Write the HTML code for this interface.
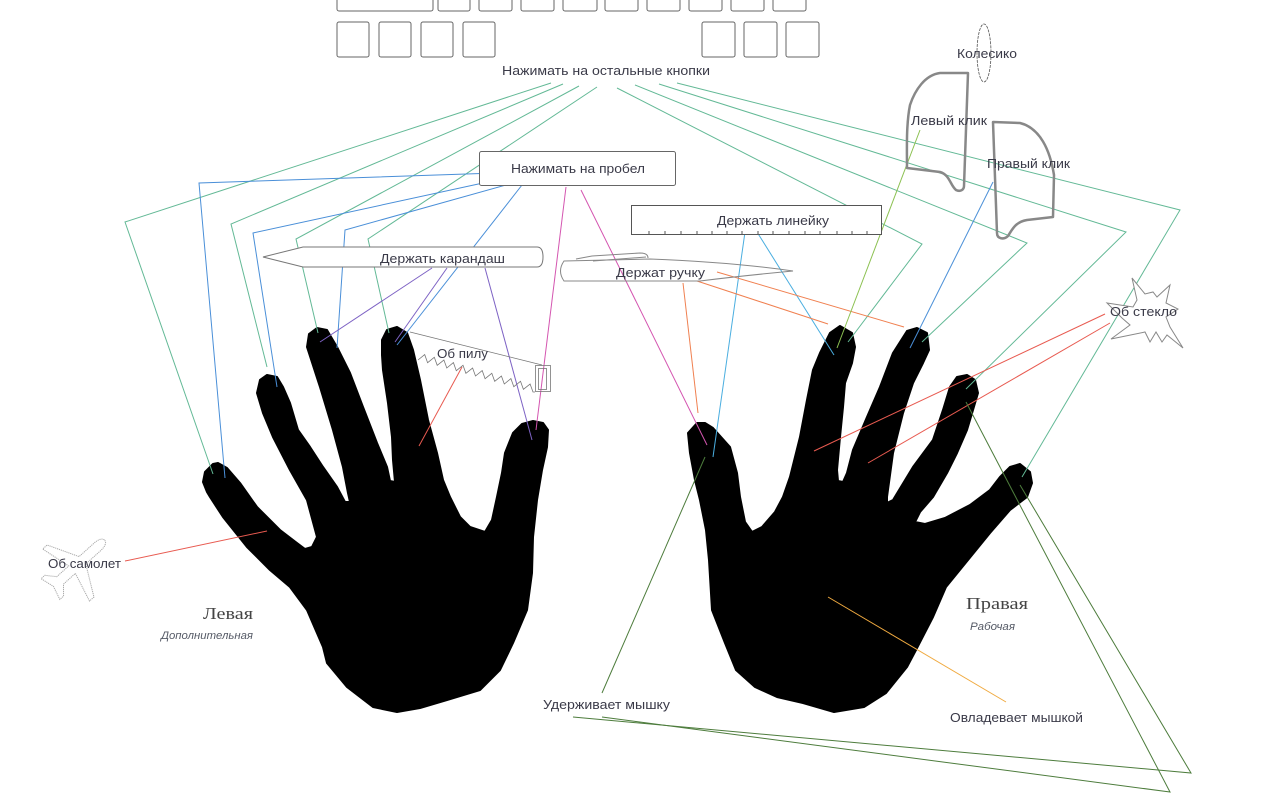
<!DOCTYPE html>
<html>
<head>
<meta charset="utf-8">
<style>
  html,body{margin:0;padding:0;background:#fff;}
  body{width:1280px;height:800px;overflow:hidden;}
  svg{display:block;}
  .t{font-family:"Liberation Sans","DejaVu Sans",sans-serif;font-size:13px;fill:#3a3a48;}
  .s{font-family:"Liberation Serif","DejaVu Serif",serif;font-size:17px;fill:#444;}
  .i{font-family:"Liberation Sans","DejaVu Sans",sans-serif;font-size:11px;font-style:italic;fill:#555a66;}
</style>
</head>
<body>
<svg width="1280" height="800" viewBox="0 0 1280 800" xmlns="http://www.w3.org/2000/svg">
  <rect width="1280" height="800" fill="#fff"/>

  <!-- Hands -->
  <polygon fill="#000" stroke="#000" stroke-width="2" stroke-linejoin="round" points="
  213,464 205,472 203,482 207,492 210,497 223,517 247,547 270,570 290,587 307,610 323,647 327,663 347,687 373,707 397,712 420,708 447,700 480,690 500,670 513,643 527,610 532,573 533,537 537,500 542,470 547,447 548,430 543,423 533,421 522,424 513,433 505,453 502,473 497,497 492,520 485,532 470,527 460,517 450,497 443,480 437,453 428,420 420,380 413,350 407,333 397,327 387,330 382,340 382,355 383,370 388,403 392,437 393,460 395,482 390,481 387,467 377,443 363,407 350,373 337,347 327,330 317,328 309,334 307,347 320,387 333,430 343,467 348,493 350,502 345,502 337,487 323,467 310,447 298,430 290,403 283,387 277,377 267,375 260,380 257,393 263,413 273,437 290,470 307,500 317,537 312,547 305,549 297,543 280,530 257,507 240,483 227,468 218,463"/>
  <polygon fill="#000" stroke="#000" stroke-width="2" stroke-linejoin="round" points="
  697,423 688,433 690,453 695,480 700,500 706,530 709,560 712,610 725,643 736,670 755,687 777,697 803,703 834,712 864,707 886,693 907,667 916,650 933,617 946,587 968,560 990,533 1010,510 1027,497 1032,483 1030,472 1020,464 1010,467 1000,477 990,490 970,505 945,518 925,524 915,522 920,512 933,497 947,473 957,453 967,430 973,410 978,393 975,380 967,375 957,377 950,387 943,410 933,440 913,467 893,500 887,503 887,497 893,453 903,413 913,383 923,363 929,350 927,333 917,328 907,331 893,353 880,387 867,417 853,450 847,473 843,482 838,481 837,470 840,437 843,407 845,383 852,363 855,347 852,333 840,326 830,333 820,353 813,370 807,400 800,437 790,477 783,497 775,512 762,527 752,532 745,522 740,497 737,473 730,447 713,428 705,423"/>

  <!-- Keyboard keys -->
  <g fill="#fff" stroke="#666" stroke-width="1">
    <rect x="337" y="-20" width="96" height="31" rx="2"/>
    <rect x="438" y="-20" width="32" height="31" rx="2"/>
    <rect x="479" y="-20" width="33" height="31" rx="2"/>
    <rect x="521" y="-20" width="33" height="31" rx="2"/>
    <rect x="563" y="-20" width="34" height="31" rx="2"/>
    <rect x="605" y="-20" width="33" height="31" rx="2"/>
    <rect x="647" y="-20" width="33" height="31" rx="2"/>
    <rect x="689" y="-20" width="33" height="31" rx="2"/>
    <rect x="731" y="-20" width="33" height="31" rx="2"/>
    <rect x="773" y="-20" width="33" height="31" rx="2"/>
    <rect x="337" y="22" width="32" height="35" rx="2"/>
    <rect x="379" y="22" width="32" height="35" rx="2"/>
    <rect x="421" y="22" width="32" height="35" rx="2"/>
    <rect x="463" y="22" width="32" height="35" rx="2"/>
    <rect x="702" y="22" width="33" height="35" rx="2"/>
    <rect x="744" y="22" width="33" height="35" rx="2"/>
    <rect x="786" y="22" width="33" height="35" rx="2"/>
  </g>

  <!-- Connectors -->
  <g fill="none" stroke-width="1" stroke-linejoin="miter">
    <g stroke="#63b996">
      <polyline points="551,83 125,222 213,474"/>
      <polyline points="563,84 231,224 267,367"/>
      <polyline points="579,86 296,239 318,333"/>
      <polyline points="597,87 368,239 389,333"/>
      <polyline points="617,88 922,244 848,342"/>
      <polyline points="635,85 1027,243 922,342"/>
      <polyline points="659,84 1126,232 966,389"/>
      <polyline points="677,83 1180,210 1022,477"/>
    </g>
    <g stroke="#4a8fd8">
      <polyline points="496,173 199,183 225,478"/>
      <polyline points="506,178 253,233 277,387"/>
      <polyline points="513,183 345,230 337,348"/>
      <polyline points="522,185 397,345"/>
      <polyline points="993,182 910,348"/>
    </g>
    <g stroke="#4aaee0">
      <polyline points="745,232 713,457"/>
      <polyline points="757,232 834,355"/>
    </g>
    <g stroke="#7d62c4">
      <polyline points="432,268 320,342"/>
      <polyline points="447,268 395,342"/>
      <polyline points="485,268 532,440"/>
    </g>
    <g stroke="#d455b0">
      <polyline points="566,187 536,430"/>
      <polyline points="581,190 707,445"/>
    </g>
    <g stroke="#f08050">
      <polyline points="683,283 698,413"/>
      <polyline points="697,281 828,324"/>
      <polyline points="717,272 904,327"/>
    </g>
    <g stroke="#e85a50">
      <polyline points="1105,314 814,451"/>
      <polyline points="1110,323 868,463"/>
      <polyline points="462,367 419,446"/>
      <polyline points="125,561 267,531"/>
    </g>
    <polyline stroke="#8cc152" points="920,130 837,348"/>
    <g stroke="#4d7c3c">
      <polyline points="705,457 602,693"/>
      <polyline points="573,717 1191,773 1020,485"/>
      <polyline points="602,717 1170,792 966,402"/>
    </g>
    <polyline stroke="#f0aa40" points="828,597 1006,702"/>
  </g>

  <!-- Space bar box -->
  <rect x="479.5" y="151.5" width="196" height="34" rx="2" fill="#fff" stroke="#666" stroke-width="1"/>

  <!-- Ruler -->
  <rect x="631.5" y="205.5" width="250" height="29" fill="#fff" stroke="#555" stroke-width="1"/>
  <g stroke="#555" stroke-width="1">
    <line x1="649" y1="231" x2="649" y2="235"/><line x1="665" y1="231" x2="665" y2="235"/>
    <line x1="681" y1="231" x2="681" y2="235"/><line x1="697" y1="231" x2="697" y2="235"/>
    <line x1="712" y1="231" x2="712" y2="235"/><line x1="727" y1="231" x2="727" y2="235"/>
    <line x1="742" y1="231" x2="742" y2="235"/><line x1="758" y1="231" x2="758" y2="235"/>
    <line x1="773" y1="231" x2="773" y2="235"/><line x1="789" y1="231" x2="789" y2="235"/>
    <line x1="805" y1="231" x2="805" y2="235"/><line x1="820" y1="231" x2="820" y2="235"/>
    <line x1="837" y1="231" x2="837" y2="235"/><line x1="852" y1="231" x2="852" y2="235"/>
    <line x1="867" y1="231" x2="867" y2="235"/>
  </g>

  <!-- Pencil -->
  <path d="M263,257 L303,247 L537,247 Q543,247 543,257 Q543,267 537,267 L303,267 Z" fill="#fff" stroke="#777" stroke-width="1"/>

  <!-- Pen -->
  <path d="M564,261 L650,259 Q730,262 793,271 Q740,276 700,281 L564,281 Q557,271 564,261 Z" fill="none" stroke="#888" stroke-width="1"/>
  <path d="M576,259 L592,256 L640,253 Q648,253 648,258 M593,261 L646,257" fill="none" stroke="#888" stroke-width="1"/>

  <!-- Saw -->
  <g fill="none" stroke="#777" stroke-width="0.8">
    <polyline points="410,332 542,365"/>
    <polyline points="418,360 424.7,354.6 427.6,362.7 434.3,357.3 437.2,365.3 443.9,360 446.8,368 453.4,362.6 456.3,370.7 463,365.3 465.9,373.3 472.6,368 475.5,376 482.2,370.6 485.1,378.7 491.8,373.3 494.7,381.3 501.4,376 504.3,384 510.9,378.6 513.8,386.7 520.5,381.3 523.4,389.3 530.1,384 533,392 535,392"/>
    <rect x="535.5" y="365.5" width="15" height="26"/>
    <rect x="538.5" y="368.5" width="8" height="21"/>
  </g>

  <!-- Mouse -->
  <g fill="none" stroke="#888" stroke-width="2.5" stroke-linejoin="round">
    <path d="M968,73 L940,73 C925,75 915,90 910,105 C906,125 907,150 907,168 L940,172 C950,175 950,185 956,190 C960,192 964,190 964,186 Z"/>
    <path d="M993,122 L1020,123 C1040,128 1050,150 1054,175 L1053,217 L1027,220 C1015,222 1012,230 1008,236 C1004,240 997,239 997,233 Z"/>
  </g>
  <ellipse cx="984" cy="53" rx="7" ry="29" fill="none" stroke="#555" stroke-width="0.8" stroke-dasharray="3 1"/>

  <!-- Glass star -->
  <polygon fill="#fff" stroke="#888" stroke-width="1" points="1132,278 1145,294 1153,292 1157,297 1170,285 1166,303 1178,309 1166,317 1170,327 1183,348 1167,335 1162,342 1156,332 1150,342 1145,332 1111,339 1130,325 1122,318 1107,303 1133,307 1137,300"/>

  <!-- Plane -->
  <path transform="translate(75,567) rotate(48)" d="M0,-40 C3,-40 5,-36 5,-30 L5,-10 L35,6 L35,12 L5,4 L5,20 L14,28 L14,33 L0,29 L-14,33 L-14,28 L-5,20 L-5,4 L-35,12 L-35,6 L-5,-10 L-5,-30 C-5,-36 -3,-40 0,-40 Z" fill="none" stroke="#aaa" stroke-width="1" stroke-dasharray="1.2 0.8"/>

  <!-- Labels -->
  <text class="t" x="502" y="75" textLength="208" lengthAdjust="spacingAndGlyphs">Нажимать на остальные кнопки</text>
  <text class="t" x="511" y="173" textLength="134" lengthAdjust="spacingAndGlyphs">Нажимать на пробел</text>
  <text class="t" x="380" y="263" textLength="125" lengthAdjust="spacingAndGlyphs">Держать карандаш</text>
  <text class="t" x="717" y="225" textLength="112" lengthAdjust="spacingAndGlyphs">Держать линейку</text>
  <text class="t" x="616" y="277" textLength="89" lengthAdjust="spacingAndGlyphs">Держат ручку</text>
  <text class="t" x="437" y="358" textLength="51" lengthAdjust="spacingAndGlyphs">Об пилу</text>
  <text class="t" x="957" y="58" textLength="60" lengthAdjust="spacingAndGlyphs">Колесико</text>
  <text class="t" x="911" y="125" textLength="76" lengthAdjust="spacingAndGlyphs">Левый клик</text>
  <text class="t" x="987" y="168" textLength="83" lengthAdjust="spacingAndGlyphs">Правый клик</text>
  <text class="t" x="1110" y="316" textLength="67" lengthAdjust="spacingAndGlyphs">Об стекло</text>
  <text class="t" x="48" y="568" textLength="73" lengthAdjust="spacingAndGlyphs">Об самолет</text>
  <text class="t" x="543" y="709" textLength="127" lengthAdjust="spacingAndGlyphs">Удерживает мышку</text>
  <text class="t" x="950" y="722" textLength="133" lengthAdjust="spacingAndGlyphs">Овладевает мышкой</text>

  <text class="s" x="203" y="619" textLength="50" lengthAdjust="spacingAndGlyphs">Левая</text>
  <text class="i" x="161" y="639" textLength="92" lengthAdjust="spacingAndGlyphs">Дополнительная</text>
  <text class="s" x="966" y="609" textLength="62" lengthAdjust="spacingAndGlyphs">Правая</text>
  <text class="i" x="970" y="630" textLength="45" lengthAdjust="spacingAndGlyphs">Рабочая</text>
</svg>
</body>
</html>
